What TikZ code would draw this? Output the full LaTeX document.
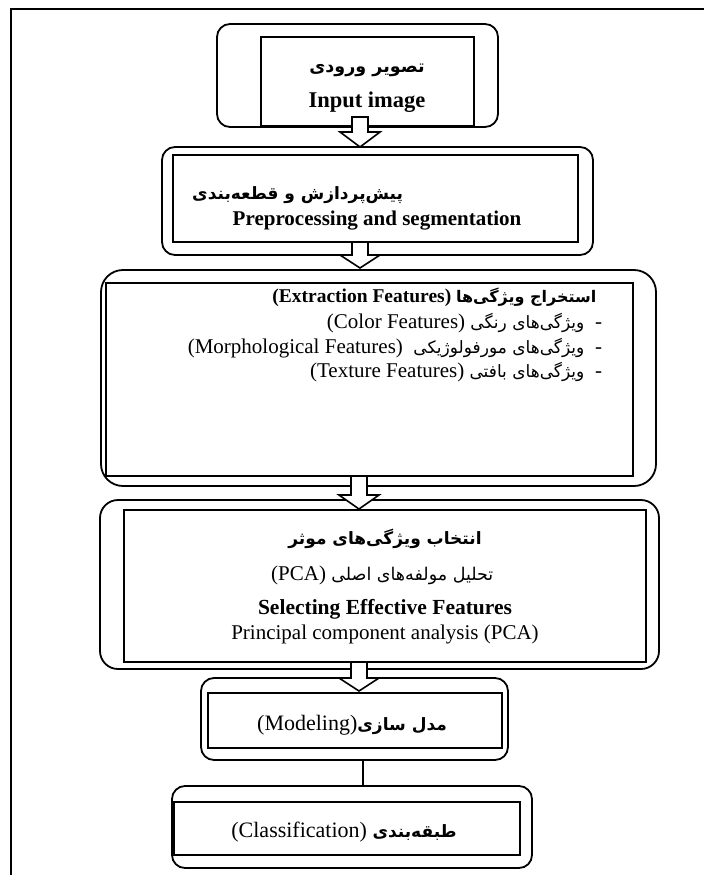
\documentclass[tikz,border=0pt]{standalone}
\usepackage{fontspec}
\setmainfont{Liberation Serif}
\newfontfamily\fa[Script=Arabic]{DejaVu Sans}
\TeXXeTstate=1
\newcommand\fsz[1]{\fontsize{#1}{#1}\selectfont}
\newcommand\blockarrow[4]{%
  \draw[blockarrowstyle] (#1-8,#2) -- (#1-8,#3) -- (#1-20,#3) -- (#1,#4) -- (#1+20,#3) -- (#1+8,#3) -- (#1+8,#2) -- cycle;}
\tikzset{
  framestyle/.style={line width=2.5pt},
  outerbox/.style={draw, line width=1.8pt, rounded corners=13pt, inner sep=0pt, outer sep=0pt},
  bigouter/.style={outerbox, rounded corners=22pt},
  innerbox/.style={draw, line width=2.4pt, inner sep=0pt, outer sep=0pt},
  txt/.style={inner sep=0pt, outer sep=0pt},
  blockarrowstyle/.style={draw, fill=white, line width=1.6pt, line join=miter},
  linkstyle/.style={line width=2pt},
}
\begin{document}
\begin{tikzpicture}[x=1pt,y=-1pt]
\useasboundingbox (0,0) rectangle (704,875);
% frame
\draw[framestyle] (11,875) -- (11,9) -- (704,9);

% Box 1
\node[outerbox, minimum width=281, minimum height=103] (o1) at (357.5,75.5) {};
\node[innerbox, minimum width=213, minimum height=89] (i1) at (367.5,81.5) {};
\node[txt, font=\fa\bfseries\fsz{17.5}] (t1a) at (367,70) {\beginR تصویر ورودی\endR};
\node[txt, font=\bfseries\fsz{22.5}] (t1b) at (367,102) {Input image};

% Box 2
\node[outerbox, minimum width=431, minimum height=108] (o2) at (377.5,201) {};
\node[innerbox, minimum width=405, minimum height=87] (i2) at (375.5,198.5) {};
\node[txt, anchor=east, font=\fa\bfseries\fsz{17}] (t2a) at (403,195) {\beginR پیش‌پردازش و قطعه‌بندی\endR};
\node[txt, font=\bfseries\fsz{21}] (t2b) at (377,221) {Preprocessing and segmentation};

% Box 3
\node[bigouter, minimum width=555, minimum height=216] (o3) at (378.5,378) {};
\node[innerbox, minimum width=527, minimum height=193] (i3) at (369.5,379.5) {};
\node[txt, anchor=east, font=\fsz{19.5}] (t3a) at (602,297) {\beginR{\fa\bfseries\fsz{16} استخراج ویژگی‌ها} \beginL{\bfseries (Extraction Features)}\endL\endR};
\node[txt, anchor=east, font=\fsz{21}] (t3b) at (602,323) {\beginR - {\fa\fsz{17} ویژگی‌های رنگی} \beginL(Color Features)\endL\endR};
\node[txt, anchor=east, font=\fsz{21}] (t3c) at (602,348) {\beginR - {\fa\fsz{17} ویژگی‌های مورفولوژیکی}\ \ \beginL(Morphological Features)\endL\endR};
\node[txt, anchor=east, font=\fsz{21}] (t3d) at (602,372) {\beginR - {\fa\fsz{17} ویژگی‌های بافتی} \beginL(Texture Features)\endL\endR};

% Box 4
\node[bigouter, rounded corners=18pt, minimum width=559, minimum height=169] (o4) at (379.5,584.5) {};
\node[innerbox, minimum width=522, minimum height=152] (i4) at (385,586) {};
\node[txt, font=\fa\bfseries\fsz{17}] (t4a) at (385,539) {\beginR انتخاب ویژگی‌های موثر\endR};
\node[txt, font=\fsz{21}] (t4b) at (385,575) {\beginR{\fa\fsz{17.5} تحلیل مولفه‌های اصلی} \beginL(PCA)\endL\endR};
\node[txt, font=\bfseries\fsz{21.5}] (t4c) at (385,609) {Selecting Effective Features};
\node[txt, font=\fsz{21}] (t4d) at (385,634) {Principal component analysis (PCA)};

% Box 5
\node[outerbox, minimum width=307, minimum height=82] (o5) at (354.5,719) {};
\node[innerbox, minimum width=294, minimum height=55] (i5) at (355,720.5) {};
\node[txt, font=\fsz{22}] (t5) at (355,725) {\beginR{\fa\bfseries\fsz{17} مدل سازی}\beginL(Modeling)\endL\endR};

% Box 6
\node[outerbox, minimum width=360, minimum height=82] (o6) at (352,827) {};
\node[innerbox, minimum width=346, minimum height=53] (i6) at (347,828.5) {};
\node[txt, font=\fsz{22}] (t6) at (347,832) {\beginR{\fa\bfseries\fsz{17} طبقه‌بندی} \beginL(Classification)\endL\endR};

% arrows
\blockarrow{360}{117}{132}{147}
\blockarrow{360}{242}{255}{268}
\blockarrow{359}{476}{495}{509}
\blockarrow{359}{662}{678}{691}
\draw[linkstyle] (o5.south -| 363,0) -- (o6.north -| 363,0);
\end{tikzpicture}
\end{document}
